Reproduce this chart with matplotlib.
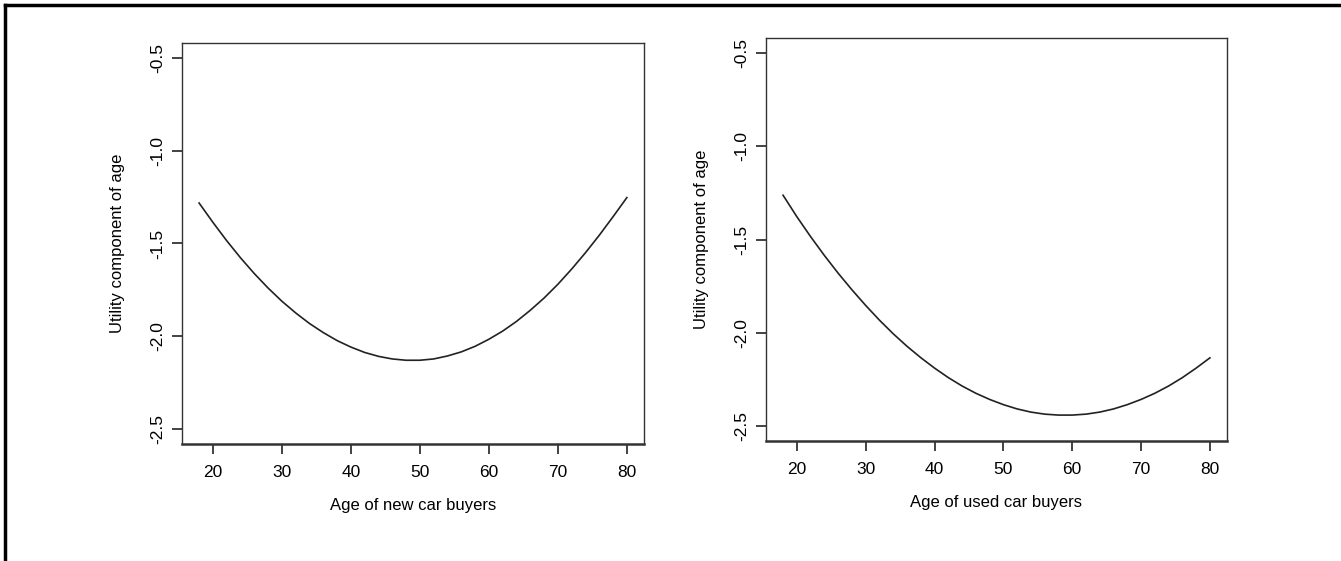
import numpy as np
import matplotlib.pyplot as plt
from matplotlib.lines import Line2D

plt.rcParams['font.family'] = ['Liberation Sans', 'DejaVu Sans']

# ages (x) and utility values
age = [18, 20, 22, 24, 26, 28, 30, 32, 34, 36, 38, 40, 42, 44, 46, 48,
       50, 52, 54, 56, 58, 60, 62, 64, 66, 68, 70, 72, 74, 76, 78, 80]
util_new = [-1.282, -1.386, -1.485, -1.577, -1.662, -1.740, -1.811, -1.874,
            -1.931, -1.980, -2.023, -2.058, -2.087, -2.108, -2.122, -2.129,
            -2.129, -2.122, -2.106, -2.084, -2.054, -2.016, -1.972, -1.920,
            -1.860, -1.794, -1.720, -1.638, -1.550, -1.456, -1.356, -1.253]
util_used = [-1.262, -1.377, -1.484, -1.585, -1.680, -1.769, -1.853, -1.932,
             -2.005, -2.072, -2.133, -2.189, -2.240, -2.285, -2.324, -2.357,
             -2.385, -2.408, -2.425, -2.436, -2.441, -2.441, -2.436, -2.425,
             -2.408, -2.385, -2.357, -2.324, -2.285, -2.240, -2.189, -2.134]

yticks = [-2.5, -2.0, -1.5, -1.0, -0.5]
xticks = [20, 30, 40, 50, 60, 70, 80]

fig = plt.figure(figsize=(13.41, 5.61), dpi=100)

panels = [
    ([0.1357, 0.2086, 0.3445, 0.7148], util_new, 'Age of new car buyers'),
    ([0.5712, 0.2139, 0.3438, 0.7180], util_used, 'Age of used car buyers'),
]

for rect, vals, xlab in panels:
    ax = fig.add_axes(rect)
    ax.plot(age, vals, color='#222222', lw=1.2)
    ax.set_xlim(15.52, 82.48)
    ax.set_ylim(-2.58, -0.42)
    ax.set_xticks(xticks)
    ax.set_yticks(yticks)
    ax.set_yticklabels([f'{v:.1f}' for v in yticks], rotation=90, va='center')
    ax.tick_params(labelsize=12.5, length=7, width=1.2, color='#222222', pad=8)
    ax.tick_params(axis='y', pad=5)
    for s in ax.spines.values():
        s.set_linewidth(1.0)
        s.set_color('#333333')
    ax.spines['bottom'].set_linewidth(1.8)
    ax.set_xlabel(xlab, fontsize=12, labelpad=13)
    ax.set_ylabel('Utility component of age', fontsize=12, labelpad=18)

# frame lines on top and left of the figure
fig.add_artist(Line2D([0.0035, 1.0], [0.9902, 0.9902], color='black', lw=2.5,
                      transform=fig.transFigure))
fig.add_artist(Line2D([0.0035, 0.0035], [0.0, 0.9902], color='black', lw=2.5,
                      transform=fig.transFigure))

fig.savefig('out.png', dpi=100)
